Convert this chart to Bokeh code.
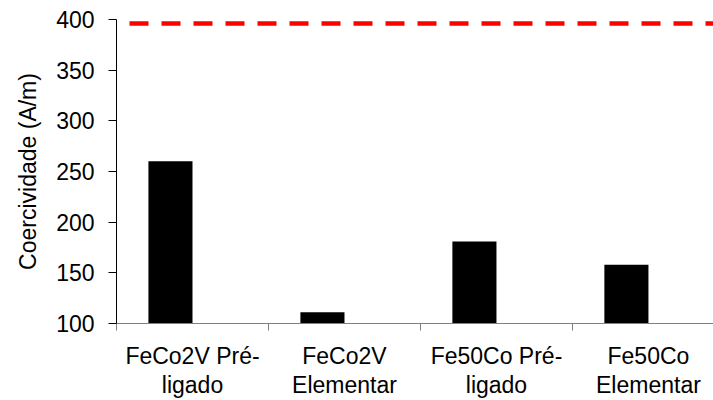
from bokeh.plotting import figure
from bokeh.models import Range1d, FixedTicker, Span
from bokeh.embed import file_html
from bokeh.resources import INLINE

# Data
categorias = ["FeCo2V Pré-\nligado", "FeCo2V\nElementar", "Fe50Co Pré-\nligado", "Fe50Co\nElementar"]
coercividade = [260, 111, 181, 158]
limite = 396
y_ticks = [100, 150, 200, 250, 300, 350, 400]

FONT = "Liberation Sans"
FS = "23px"

n = len(categorias)
bar_offset = 0.355
bar_width = 0.29
xs = [i + bar_offset for i in range(n)]

p = figure(width=713, height=400, output_backend="svg", toolbar_location=None,
           x_range=Range1d(0, 3.928), y_range=Range1d(100, 400),
           min_border_left=116, min_border_right=0, min_border_top=19, min_border_bottom=77)
p.outline_line_color = None
p.xgrid.visible = False
p.ygrid.visible = False
p.background_fill_color = "white"
p.border_fill_color = "white"

p.vbar(x=xs, top=coercividade, bottom=100, width=bar_width, color="black", line_color=None)

p.add_layout(Span(location=limite, dimension="width", line_color="#ff0000", line_width=4.5,
                  line_dash="19 13", line_dash_offset=19))

# y axis
p.yaxis.ticker = FixedTicker(ticks=y_ticks, minor_ticks=[])
p.yaxis.axis_label = "Coercividade (A/m)"
p.yaxis.axis_label_text_font = FONT
p.yaxis.axis_label_text_font_size = FS
p.yaxis.axis_label_text_font_style = "normal"
p.yaxis.axis_label_text_color = "black"
p.yaxis.axis_label_standoff = 12
p.yaxis.major_label_text_font = FONT
p.yaxis.major_label_text_font_size = FS
p.yaxis.major_label_text_color = "black"
p.yaxis.major_label_standoff = 14
p.yaxis.major_tick_out = 8
p.yaxis.major_tick_in = 0
p.yaxis.major_tick_line_color = "black"
p.yaxis.axis_line_color = "black"

# x axis
centers = [i + 0.5 for i in range(n)]
p.xaxis.ticker = FixedTicker(ticks=centers, minor_ticks=list(range(n + 1)))
p.xaxis.major_label_overrides = {c: lab for c, lab in zip(centers, categorias)}
p.xaxis.major_label_text_font = FONT
p.xaxis.major_label_text_font_size = FS
p.xaxis.major_label_text_line_height = 1.13
p.xaxis.major_label_text_color = "black"
p.xaxis.major_label_standoff = 12
p.xaxis.major_tick_out = 0
p.xaxis.major_tick_in = 0
p.xaxis.minor_tick_out = 7
p.xaxis.minor_tick_in = 0
p.xaxis.minor_tick_line_color = "#808080"
p.xaxis.axis_line_color = "#808080"

open("out.html", "w").write(file_html(p, INLINE))
